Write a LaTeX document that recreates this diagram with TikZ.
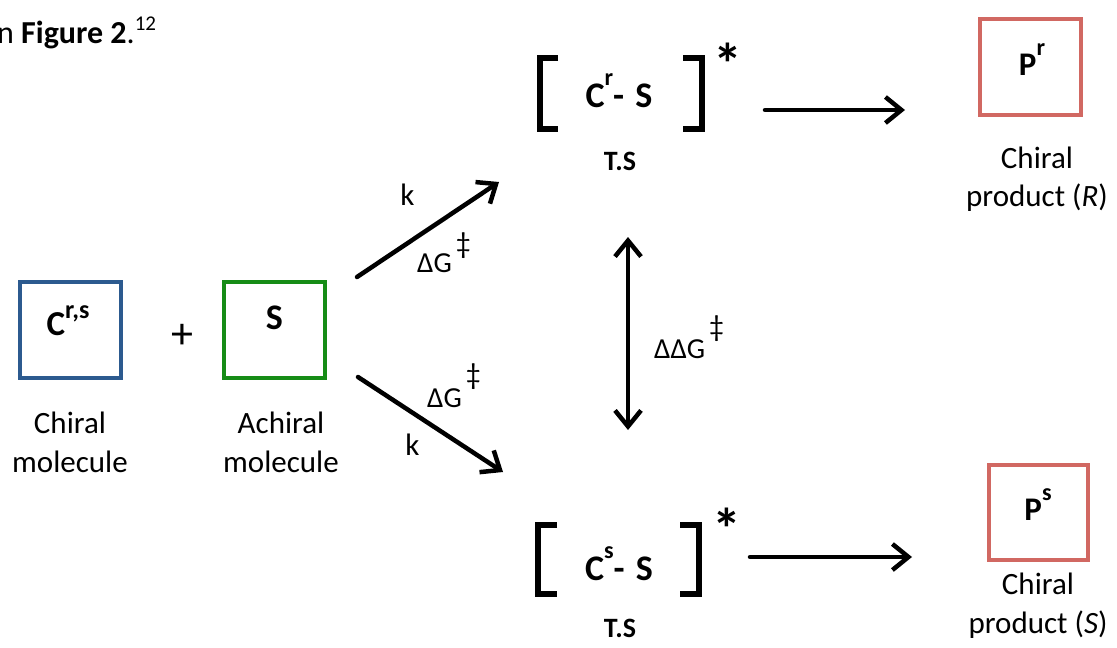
\documentclass[tikz,border=0pt]{standalone}
\usepackage{fontspec}
\setmainfont{Carlito}
\usetikzlibrary{arrows.meta}
\definecolor{cblue}{RGB}{44,90,143}
\definecolor{cgreen}{RGB}{22,140,22}
\definecolor{cred}{RGB}{209,104,98}
\newcommand\fs[1]{\fontsize{#1}{#1}\selectfont}
\newcommand\upr[3]{\raisebox{#1}{\fs{#2}#3}}
\begin{document}
\begin{tikzpicture}[x=1pt,y=-1pt,
  box/.style={draw, line width=4pt, minimum width=101pt, minimum height=96pt, inner sep=0pt},
  tip/.style={},
  arr/.style={line width=4.5pt, -{Straight Barb[length=16pt,width=26pt]}, line cap=round, line join=round},
  darr/.style={line width=4.5pt, {Straight Barb[length=16pt,width=26pt]}-{Straight Barb[length=16pt,width=26pt]}, line cap=round, line join=round},
  brk/.style={line width=6pt, line join=miter},
  lbl/.style={inner sep=0pt, anchor=base, align=center, font=\fontsize{31}{38.5}\selectfont}]
\useasboundingbox (0,0) rectangle (1117,648);

% top-left text fragment
\node[lbl, anchor=base west, font=\fs{32}] (fig) at (-3,43) {n \textbf{Figure 2}.\upr{13pt}{21}{12}};

% boxes
\node[box, draw=cblue] (cbox) at (70.5,330) {};
\node[box, draw=cgreen] (sbox) at (274.5,330) {};
\node[box, draw=cred] (prbox) at (1030.5,67) {};
\node[box, draw=cred, minimum width=99pt, minimum height=95pt] (psbox) at (1038.5,512.5) {};

% box labels
\node[lbl, font=\fs{35}\bfseries] (clab) at (68,335) {C\upr{17pt}{26}{r,s}};
\node[lbl, font=\fs{36}\bfseries] (slab) at (274.5,329) {S};
\node[lbl, font=\fs{33}\bfseries] (prlab) at (1032,75) {P\upr{20pt}{24}{r}};
\node[lbl, font=\fs{33}\bfseries] (pslab) at (1038,520) {P\upr{20pt}{24}{s}};
\node[lbl, font=\fs{44}] (plus) at (182,348) {+};

% names
\node[lbl] (cname) at (70,472) {Chiral\\molecule};
\node[lbl] (sname) at (281,472) {Achiral\\molecule};
\node[lbl] (prname) at (1037,206.5) {Chiral\\product (\textit{R})};
\node[lbl] (psname) at (1038,633) {Chiral\\product (\textit{S})};

% transition states
\draw[brk] (558,58) -- (540,58) -- (540,129) -- (558,129);
\draw[brk] (683,58) -- (702,58) -- (702,129) -- (683,129);
\node[lbl, font=\fs{36}\bfseries] (tsr) at (619,107) {C\upr{22pt}{24}{r}-\hspace{3pt} S};
\node[lbl, font=\fs{28}\bfseries] (tsrl) at (620,170) {T.S};
\node[lbl, font=\fs{58}\bfseries] (astr) at (728,84) {*};

\draw[brk] (557,525) -- (538,525) -- (538,594) -- (557,594);
\draw[brk] (680,525) -- (699,525) -- (699,594) -- (680,594);
\node[lbl, font=\fs{36}\bfseries] (tss) at (619,580) {C\upr{22pt}{24}{s}-\hspace{3pt} S};
\node[lbl, font=\fs{28}\bfseries] (tssl) at (620,637) {T.S};
\node[lbl, font=\fs{58}\bfseries] (asts) at (727,549) {*};

% arrows
\coordinate (u1) at (357,277); \coordinate (u2) at (499,182);
\coordinate (d1) at (358,377); \coordinate (d2) at (503,472);
\coordinate (v1) at (628,237); \coordinate (v2) at (628,430);
\coordinate (h1) at (765,110); \coordinate (h2) at (905,110);
\coordinate (h3) at (750,557); \coordinate (h4) at (912,557);
\draw[arr] (u1) -- (u2);
\draw[arr] (d1) -- (d2);
\draw[darr] (v1) -- (v2);
\draw[arr] (h1) -- (h2);
\draw[arr] (h3) -- (h4);

% arrow labels
\node[lbl, font=\fs{31}] (ku) at (407.5,205) {k};
\node[lbl, font=\fs{31}] (kd) at (412.5,455) {k};
\node[lbl, anchor=base west, font=\fs{29}] (gu) at (417,272) {ΔG\hspace{4pt}\upr{19pt}{30}{‡}};
\node[lbl, anchor=base west, font=\fs{29}] (gd) at (427,407) {ΔG\hspace{4pt}\upr{23pt}{30}{‡}};
\node[lbl, anchor=base west, font=\fs{29}] (gg) at (654,358) {ΔΔG\hspace{4pt}\upr{22pt}{30}{‡}};
\end{tikzpicture}
\end{document}
